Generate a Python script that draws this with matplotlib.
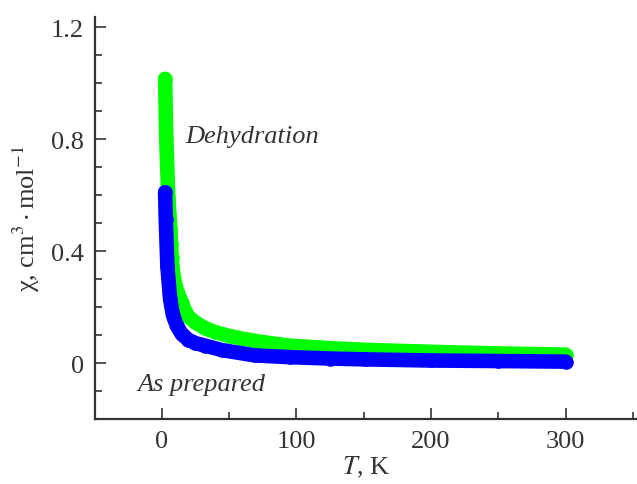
import matplotlib
matplotlib.use("Agg")
import matplotlib.pyplot as plt
from matplotlib.ticker import MultipleLocator

plt.rcParams['font.family'] = ['Liberation Serif', 'DejaVu Serif']
plt.rcParams['mathtext.fontset'] = 'stix'

# values
tDehydration = [2.6, 3.5, 5, 6.5, 7, 7.5, 8, 10, 13.7, 15, 17.5, 20, 25, 32, 40, 50, 60,
                74.4, 95, 125, 151, 200, 250, 288, 300]
chiDehydration = [1.015, 0.80, 0.59, 0.48, 0.425, 0.378, 0.343, 0.28, 0.23, 0.215, 0.185,
                  0.165, 0.145, 0.125, 0.11, 0.097, 0.087, 0.075, 0.062, 0.053, 0.047,
                  0.040, 0.034, 0.031, 0.030]

tPrepared = [2.6, 3.1, 4.3, 6.3, 8.5, 11.3, 15, 19.9, 25, 32.3, 45, 69.4, 95, 125,
             151, 200, 250, 300]
chiPrepared = [0.61, 0.514, 0.347, 0.229, 0.17, 0.133, 0.103, 0.083, 0.071, 0.062, 0.046,
               0.027, 0.021, 0.016, 0.013, 0.009, 0.007, 0.005]

xTicks = [0, 100, 200, 300]
yTicks = [0, 0.4, 0.8, 1.2]
yTickLabels = ["0", "0.4", "0.8", "1.2"]

textColor = "#333333"
fontSize = 19

fig = plt.figure(figsize=(6.37, 4.85), dpi=100)
ax = fig.add_axes([0.149, 0.134, 0.851, 0.829])

ax.plot(tDehydration, chiDehydration, color="#00ff00", lw=10.5, marker="o", ms=10.5,
        mew=0, solid_capstyle="round", solid_joinstyle="round")
ax.plot(tPrepared, chiPrepared, color="#0000ff", lw=10.5, marker="o", ms=10.5,
        mew=0, solid_capstyle="round", solid_joinstyle="round")

ax.set_xlim(-49.5, 353)
ax.set_ylim(-0.2, 1.236)
ax.set_xticks(xTicks)
ax.set_yticks(yTicks)
ax.set_yticklabels(yTickLabels)
ax.xaxis.set_minor_locator(MultipleLocator(50))
ax.yaxis.set_minor_locator(MultipleLocator(0.1))

for side in ["top", "right"]:
    ax.spines[side].set_visible(False)
for side in ["left", "bottom"]:
    ax.spines[side].set_color(textColor)
    ax.spines[side].set_linewidth(1.6)

ax.tick_params(which="both", direction="in", colors=textColor, labelsize=fontSize, width=1.2)
ax.tick_params(which="major", length=8, pad=8)
ax.tick_params(which="minor", length=5)

ax.set_xlabel("$T$, K", fontsize=fontSize, color=textColor, labelpad=1)
ax.set_ylabel("χ, cm$^3\\cdot$mol$^{-1}$", fontsize=fontSize, color=textColor, labelpad=6)

ax.text(17.4, 0.81, "Dehydration", fontsize=fontSize, style="italic", color=textColor,
        va="center", ha="left")
ax.text(-18, -0.075, "As prepared", fontsize=fontSize, style="italic", color=textColor,
        va="center", ha="left")

fig.savefig("out.png", dpi=100)
